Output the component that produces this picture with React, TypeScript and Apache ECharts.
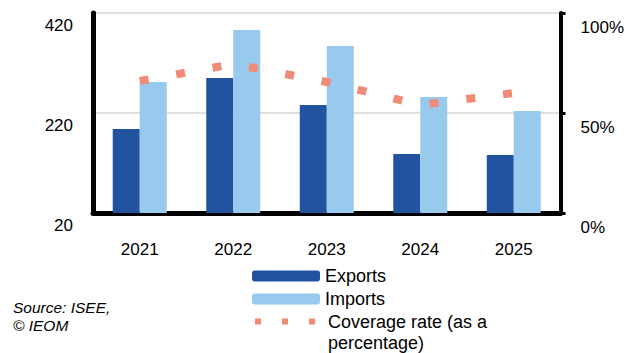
import React, { useEffect, useRef } from "react";
import * as echarts from "echarts";

const years = ["2021", "2022", "2023", "2024", "2025"];
const exportsValues = [188, 290, 236, 138, 136];
const importsValues = [282, 386, 354, 252, 224];
const coverageValues = [66, 74.5, 65.5, 54, 60];
const leftTicks = { min: 20, max: 420, interval: 200 };
const rightTicks = { min: 0, max: 100, interval: 50 };

const FONT = "'Liberation Sans', Arial, sans-serif";

export default function App() {
  const ref = useRef<HTMLDivElement>(null);
  useEffect(() => {
    if (!ref.current) return;
    const chart = echarts.init(ref.current, null, { renderer: "svg" });
    chart.setOption({
      animation: false,
      backgroundColor: "#ffffff",
      textStyle: { fontFamily: FONT },
      grid: { left: 93, top: 13, width: 470, height: 200, containLabel: false },
      xAxis: {
        type: "category",
        data: years,
        boundaryGap: true,
        axisLine: { show: true, lineStyle: { color: "#000", width: 5 } },
        axisTick: { show: false },
        axisLabel: { color: "#000", fontSize: 17, margin: 28, fontFamily: FONT },
        splitLine: { show: false },
      },
      yAxis: [
        {
          type: "value",
          position: "left",
          min: leftTicks.min,
          max: leftTicks.max,
          interval: leftTicks.interval,
          axisLine: { show: true, lineStyle: { color: "#000", width: 5 } },
          axisTick: { show: false },
          axisLabel: {
            color: "#000",
            fontSize: 17,
            margin: 20,
            verticalAlign: "top",
            padding: [4, 0, 0, 0],
            fontFamily: FONT,
          },
          splitLine: { show: true, lineStyle: { color: "#D6D6D6", width: 1.5 } },
        },
        {
          type: "value",
          position: "right",
          min: rightTicks.min,
          max: rightTicks.max,
          interval: rightTicks.interval,
          axisLine: { show: true, lineStyle: { color: "#000", width: 4 } },
          axisTick: { show: true, inside: false, length: 5, lineStyle: { color: "#000", width: 3 } },
          axisLabel: {
            color: "#000",
            fontSize: 17,
            margin: 20,
            formatter: "{value}%",
            verticalAlign: "top",
            padding: [6, 0, 0, 0],
            fontFamily: FONT,
          },
          splitLine: { show: false },
        },
      ],
      legend: [
        {
          data: ["Exports", "Imports"],
          orient: "vertical",
          left: 252,
          top: 267,
          padding: 0,
          itemWidth: 68,
          itemHeight: 11,
          itemGap: 5,
          textStyle: { color: "#000", fontSize: 18, fontFamily: FONT },
        },
        {
          data: [
            {
              name: "Coverage rate (as a percentage)",
              lineStyle: { width: 6, type: [6, 21], cap: "butt" },
              itemStyle: { color: "rgba(0,0,0,0)", borderWidth: 0, opacity: 0 },
            },
          ],
          orient: "vertical",
          left: 252,
          top: 290,
          padding: 0,
          itemWidth: 68,
          itemHeight: 11,
          formatter: () => " \nCoverage rate (as a\npercentage)",
          textStyle: {
            color: "#000",
            fontSize: 18,
            lineHeight: 21,
            fontFamily: FONT,
          },
        },
      ],
      graphic: [
        {
          type: "text",
          left: 13,
          top: 298,
          style: {
            text: "Source: ISEE,\n© IEOM",
            fontSize: 15.5,
            fontStyle: "italic",
            lineHeight: 18,
            fill: "#000",
            fontFamily: FONT,
          },
        },
      ],
      series: [
        {
          name: "Exports",
          type: "bar",
          data: exportsValues,
          barWidth: 27,
          barGap: "0%",
          itemStyle: { color: "#2253A0" },
        },
        {
          name: "Imports",
          type: "bar",
          data: importsValues,
          barWidth: 27,
          barGap: "0%",
          itemStyle: { color: "#97CAEC" },
        },
        {
          name: "Coverage rate (as a percentage)",
          type: "line",
          yAxisIndex: 1,
          data: coverageValues,
          symbol: "none",
          showSymbol: false,
          lineStyle: { color: "#F08B78", width: 8, type: [9, 28], cap: "butt" },
          itemStyle: { color: "#F08B78" },
          z: 5,
        },
      ],
    });
    return () => chart.dispose();
  }, []);
  return (
    <div
      ref={ref}
      style={{ position: "fixed", left: 0, top: 0, width: 627, height: 353 }}
    />
  );
}
